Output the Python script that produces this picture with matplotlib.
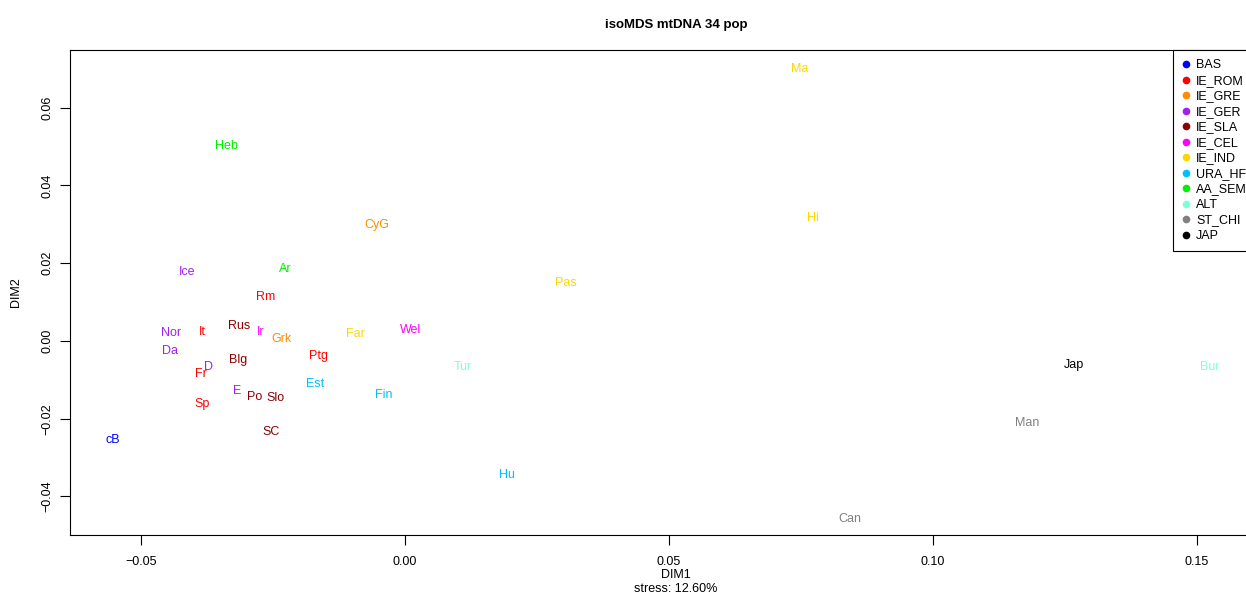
import matplotlib
matplotlib.use("Agg")
import matplotlib.pyplot as plt
from matplotlib.lines import Line2D

plt.rcParams['font.family'] = ['Liberation Sans', 'DejaVu Sans']

# population labels, MDS coordinates and language group
pops = ['Ma', 'Heb', 'Hi', 'CyG', 'Ice', 'Ar', 'Rm', 'Pas', 'Nor', 'It', 'Rus',
        'Ir', 'Grk', 'Far', 'Wel', 'Da', 'Blg', 'Ptg', 'D', 'Fr', 'Tur', 'Jap',
        'Bur', 'Est', 'Fin', 'E', 'Po', 'Slo', 'Sp', 'Man', 'SC', 'cB', 'Hu', 'Can']
dim1 = [0.0748, -0.0337, 0.0773, -0.0053, -0.0413, -0.0227, -0.0263, 0.0305,
        -0.0443, -0.0384, -0.0314, -0.0273, -0.0233, -0.0093, 0.0011, -0.0445,
        -0.0316, -0.0163, -0.0371, -0.0386, 0.0110, 0.1267, 0.1525, -0.0169,
        -0.0040, -0.0318, -0.0284, -0.0244, -0.0383, 0.1178, -0.0254, -0.0553,
        0.0193, 0.0843]
dim2 = [0.0702, 0.0504, 0.0319, 0.0303, 0.0180, 0.0190, 0.0116, 0.0154,
        0.0023, 0.0028, 0.0041, 0.0028, 0.0010, 0.0021, 0.0031, -0.0021,
        -0.0044, -0.0036, -0.0062, -0.0082, -0.0064, -0.0057, -0.0064, -0.0108,
        -0.0136, -0.0126, -0.0141, -0.0144, -0.0159, -0.0208, -0.0231, -0.0252,
        -0.0342, -0.0455]
group = ['IE_IND', 'AA_SEM', 'IE_IND', 'IE_GRE', 'IE_GER', 'AA_SEM', 'IE_ROM',
         'IE_IND', 'IE_GER', 'IE_ROM', 'IE_SLA', 'IE_CEL', 'IE_GRE', 'IE_IND',
         'IE_CEL', 'IE_GER', 'IE_SLA', 'IE_ROM', 'IE_GER', 'IE_ROM', 'ALT', 'JAP',
         'ALT', 'URA_HF', 'URA_HF', 'IE_GER', 'IE_SLA', 'IE_SLA', 'IE_ROM',
         'ST_CHI', 'IE_SLA', 'BAS', 'URA_HF', 'ST_CHI']

groups = ['BAS', 'IE_ROM', 'IE_GRE', 'IE_GER', 'IE_SLA', 'IE_CEL', 'IE_IND',
          'URA_HF', 'AA_SEM', 'ALT', 'ST_CHI', 'JAP']
group_colors = ['#0000FF', '#FF0000', '#FF8C00', '#A020F0', '#8B0000', '#FF00FF',
                '#FFD700', '#00BFFF', '#00EE00', '#7FFFD4', '#808080', '#000000']
col = dict(zip(groups, group_colors))

fig = plt.figure(figsize=(12.46, 5.95), dpi=100)
W, H = 1246, 595
# plot region is wider than the image (right side is cut off, as in the original)
ax = fig.add_axes([70 / W, (H - 535) / H, (1282 - 70) / W, (535 - 50) / H])
ax.set_xlim(-0.0634, 0.1661)
ax.set_ylim(-0.0499, 0.0748)

for p, x, y, g in zip(pops, dim1, dim2, group):
    ax.text(x, y, p, color=col[g], fontsize=9, ha='center', va='center_baseline')

ax.set_xticks([-0.05, 0.0, 0.05, 0.10, 0.15])
ax.set_xticklabels(['\u22120.05', '0.00', '0.05', '0.10', '0.15'])
ax.set_yticks([-0.04, -0.02, 0.0, 0.02, 0.04, 0.06])
ax.set_yticklabels(['\u22120.04', '\u22120.02', '0.00', '0.02', '0.04', '0.06'],
                   rotation=90, va='center')
ax.tick_params(direction='out', length=7, width=0.8, labelsize=9)
ax.tick_params(axis='x', pad=8)
ax.tick_params(axis='y', pad=5)
for s in ax.spines.values():
    s.set_linewidth(0.8)

ax.set_title('isoMDS mtDNA 34 pop', fontsize=9.5, fontweight='bold', pad=16)
ax.set_xlabel('DIM1\nstress: 12.60%', fontsize=9, linespacing=1.15, labelpad=1)
ax.set_ylabel('DIM2', fontsize=9, labelpad=14)

handles = [Line2D([], [], marker='o', ls='', color=c, markersize=4.5)
           for c in group_colors]
leg = ax.legend(handles, groups, loc='upper left',
                bbox_to_anchor=(1173 / W, 1 - 50 / H), bbox_transform=fig.transFigure,
                borderaxespad=0, fancybox=False, edgecolor='black', framealpha=1,
                fontsize=9, handlelength=0.6, handletextpad=0.5,
                labelspacing=0.28, borderpad=0.75)
leg.get_frame().set_linewidth(0.8)

fig.savefig('out.png', dpi=100)
